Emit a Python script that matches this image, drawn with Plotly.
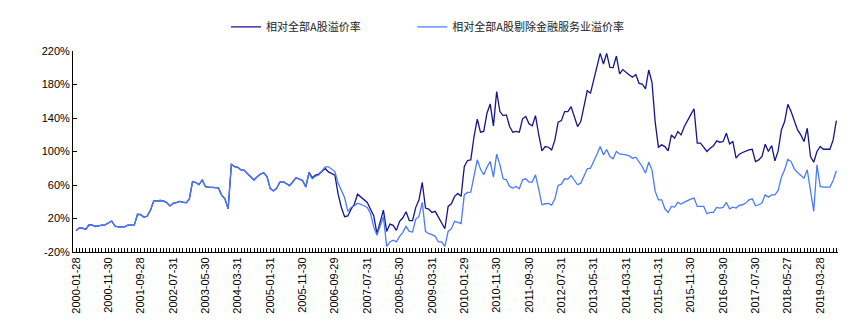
import plotly.graph_objects as go

series_names = ["相对全部A股溢价率", "相对全部A股剔除金融服务业溢价率"]

# monthly values (%), index 0 = 2000-01 ... index 235 = 2019-08
dark = [
    5.5, 8.8, 8.5, 7, 12.5, 12, 10.5, 11.5, 12, 12.5,
    15, 17, 11, 10, 10, 10, 12, 12.3, 12.3, 25,
    24.5, 21.5, 23, 30, 41, 41, 41.5, 41, 39, 35,
    38, 39, 40.5, 39.5, 38.7, 43, 64, 63, 60.5, 66,
    58, 57.5, 57, 56.5, 56.5, 48, 43.5, 31.5, 84.5, 82,
    81, 78, 77.5, 73.4, 70.2, 66, 70, 73, 74.6, 70.2,
    56, 52.9, 56, 63.5, 63.9, 61.5, 59.2, 63.9, 68.7, 67,
    65.5, 57.6, 75, 68.7, 71.8, 73, 76.5, 79.7, 75.7, 74.2,
    71.8, 49, 33.2, 22.2, 23, 31.2, 37, 49, 45.8, 41.9,
    39.1, 31, 23.3, 2, 15, 30, 4.6, 13.4, 11.8, 5.8,
    16.6, 20.9, 28.1, 17.4, 17.4, 33.3, 42.4, 63, 32.5, 31.3,
    27.3, 28.5, 21.7, 14.6, 7.8, 34.4, 37.6, 46.4, 49.9, 46.4,
    82.1, 89.3, 90, 117.9, 138.6, 123, 123.9, 145.7, 156.8, 130.6,
    171.5, 147.7, 142.9, 143.7, 129.8, 123, 123.9, 123, 139, 141.7,
    133, 130.6, 142.9, 120, 100.7, 105.9, 105.1, 102, 113.9, 135,
    136.9, 147.7, 147.7, 153.6, 141.7, 129.8, 135.7, 153.6, 172.7, 169.6,
    184.3, 200.1, 217.2, 204.5, 217.2, 200.5, 200.1, 214, 192.6, 197.8,
    194.2, 191.4, 188.6, 191.8, 181.4, 180.6, 174.7, 197.3, 182.6, 135,
    105, 107.9, 105.9, 100.7, 119.8, 115.9, 123.8, 119.8, 129.8, 137.7,
    144, 151, 109.9, 109.9, 105.1, 100, 103.9, 106.7, 112.7, 111.1,
    111.9, 121.8, 109.1, 111.9, 92, 96.8, 98.8, 100.7, 101.9, 102.7,
    88, 90, 94, 108.7, 100, 107.1, 88.8, 100.7, 125.8, 135.7,
    156.4, 147.7, 135.7, 125.8, 119.8, 111.9, 127.8, 94, 87.2, 100,
    106, 102.7, 102.7, 102.7, 113.9, 136.9,
]

light = [
    5.5, 8.8, 8.5, 7, 12.5, 12, 10.5, 11.5, 12, 12.5,
    15, 17, 11, 10, 10, 10, 12, 12.3, 12.3, 25,
    24.5, 21.5, 23, 30, 41, 41, 41.5, 41, 39, 35,
    38, 39, 40.5, 39.5, 38.7, 43, 64, 63, 60.5, 66,
    58, 57.5, 57, 56.5, 56.5, 48, 43.5, 31.5, 84.5, 82,
    81, 78, 77.5, 73.4, 70.2, 66, 70, 73, 74.6, 70.2,
    56, 52.9, 56, 63.5, 63.9, 61.5, 59.2, 63.9, 68.7, 67,
    65.5, 57.6, 74, 67.5, 70.5, 72, 76.5, 81.7, 81.7, 78.5,
    76, 62, 52.9, 45, 28.5, 33.2, 35.2, 38.3, 37, 35.2,
    33.2, 26, 10, 0, 12, 22, -13.2, -8, -6, -8,
    -1.3, 3.4, 10.6, 4.6, 3.8, 19.3, 22.5, 39.2, 4.6, 1.9,
    0.7, -1.3, -8, -8, -13.2, 4.6, 7.8, 16.6, 15.4, 13.8,
    48.4, 51.1, 51.5, 72.2, 90.1, 79, 72.2, 81.3, 88.1, 69.4,
    96.8, 84.1, 67.4, 66.2, 58.3, 56.3, 58.3, 55.5, 66.2, 67.4,
    63.5, 63.5, 72.2, 55, 36.4, 37.6, 38, 36, 43.6, 59.5,
    61, 67.4, 67, 71.4, 66.2, 60.3, 62.2, 70.2, 79.3, 80.1,
    88, 96.8, 105.9, 96, 102.4, 94, 91.2, 100, 97.1, 96.8,
    96, 94.8, 92, 93.2, 88, 82.1, 74.1, 87.2, 78.1, 52.3,
    42.3, 42.3, 31.6, 27.2, 34.4, 33.6, 39.2, 37.2, 39.6, 41.6,
    43.2, 44.4, 34.4, 34.4, 34.4, 25.7, 27.3, 27.3, 33.2, 32.4,
    33.2, 39.2, 31.6, 33.6, 32.4, 35.6, 36.4, 38.4, 42.3, 43.5,
    35.2, 36.4, 38.4, 48.3, 45.5, 48.3, 48.3, 53.5, 69.4, 78.1,
    90.8, 88, 79.3, 74.9, 71.4, 68.2, 78.1, 52.3, 28.5, 84.1,
    58.3, 57.5, 57.5, 57.5, 65.4, 77,
]

tick_labels = [
    "2000-01-28", "2000-11-30", "2001-09-28", "2002-07-31", "2003-05-30",
    "2004-03-31", "2005-01-31", "2005-11-30", "2006-09-29", "2007-07-31",
    "2008-05-30", "2009-03-31", "2010-01-29", "2010-11-30", "2011-09-30",
    "2012-07-31", "2013-05-31", "2014-03-31", "2015-01-31", "2015-11-30",
    "2016-09-30", "2017-07-30", "2018-05-27", "2019-03-28",
]
tick_step = 10

y_ticks = [-20, 20, 60, 100, 140, 180, 220]
y_tick_labels = [f"{v}%" for v in y_ticks]

x = list(range(len(dark)))
tick_pos = [i * tick_step for i in range(len(tick_labels))]

fig = go.Figure()
fig.add_trace(go.Scatter(x=x, y=dark, mode="lines", name=series_names[0],
                         line=dict(color="#14148C", width=1.3), legend="legend"))
fig.add_trace(go.Scatter(x=x, y=light, mode="lines", name=series_names[1],
                         line=dict(color="#4A7BFF", width=1.3), legend="legend2"))

legend_font = dict(family="Noto Sans CJK SC", size=11, color="#222")
fig.update_layout(
    width=862, height=328,
    margin=dict(l=73, r=24, t=51, b=76),
    paper_bgcolor="white", plot_bgcolor="white",
    font=dict(family="Liberation Sans, Arial, sans-serif", size=11, color="black"),
    showlegend=True,
    legend=dict(orientation="h", x=0.2, xanchor="left", y=1.12, yanchor="middle",
                font=legend_font, itemwidth=30, bgcolor="rgba(0,0,0,0)"),
    legend2=dict(orientation="h", x=0.4435, xanchor="left", y=1.12, yanchor="middle",
                 font=legend_font, itemwidth=30, bgcolor="rgba(0,0,0,0)"),
    xaxis=dict(
        range=[-0.95, len(dark) - 0.5],
        tickmode="array", tickvals=tick_pos, ticktext=tick_labels,
        tickangle=-90, ticks="inside", ticklen=4, tickcolor="black",
        showline=True, linecolor="black", linewidth=1,
        showgrid=False, zeroline=False,
        minor=dict(tickmode="linear", tick0=0, dtick=1, ticks="inside",
                   ticklen=4, tickcolor="black", showgrid=False),
        tickfont=dict(size=11),
    ),
    yaxis=dict(
        range=[-20, 220], tickmode="array",
        tickvals=y_ticks, ticktext=y_tick_labels,
        ticks="inside", ticklen=4, tickcolor="black",
        showline=True, linecolor="black", linewidth=1,
        showgrid=False, zeroline=False,
        tickfont=dict(size=11),
    ),
)

fig.write_html("out.html")
